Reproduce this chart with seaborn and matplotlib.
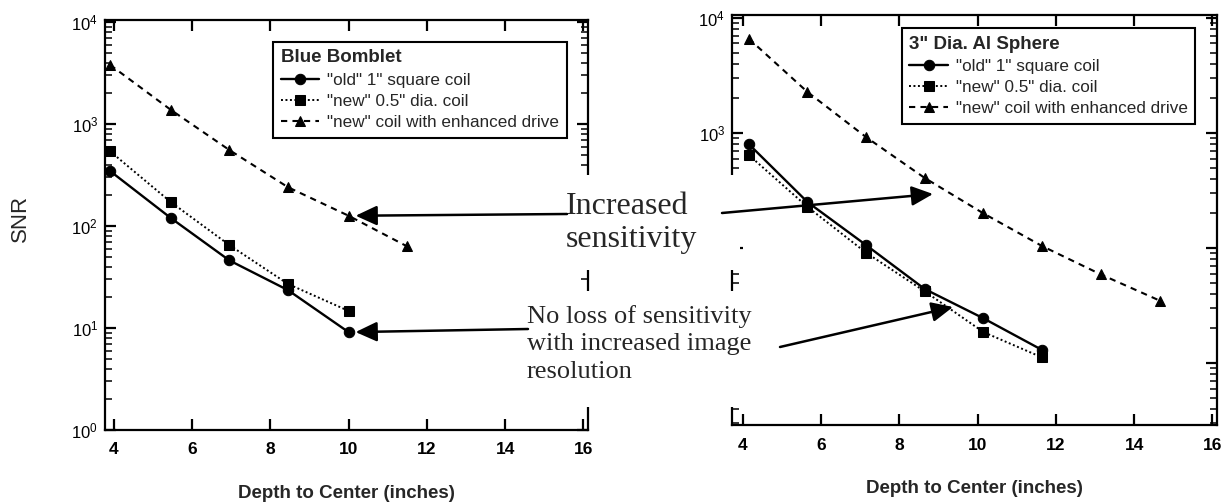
import numpy as np
import matplotlib
matplotlib.use("Agg")
import matplotlib.pyplot as plt
import seaborn as sns
from matplotlib.patches import Rectangle, ConnectionPatch, ArrowStyle
from matplotlib.ticker import LogLocator, NullFormatter, FuncFormatter

# ---- measured SNR versus depth ----
series_labels = ['"old" 1" square coil', '"new" 0.5" dia. coil', '"new" coil with enhanced drive']

bomblet_title = "Blue Bomblet"
bomblet_depth = [3.9, 5.45, 6.95, 8.45, 10.0, 11.5]
bomblet_old = [346, 120, 46, 23.5, 9.1]
bomblet_new = [540, 172, 65, 27, 14.7]
bomblet_drive = [3800, 1380, 556, 240, 126, 63]

sphere_title = '3" Dia. Al Sphere'
sphere_depth = [4.15, 5.65, 7.15, 8.65, 10.15, 11.65, 13.15, 14.65]
sphere_old = [800, 251, 106, 44, 24.5, 13]
sphere_new = [643, 228, 91, 42, 18.6, 11.2]
sphere_drive = [6600, 2270, 920, 406, 200, 104, 59, 35]

x_ticks = [4, 6, 8, 10, 12, 14, 16]
x_label = "Depth to Center (inches)"
y_label = "SNR"
note_up = "Increased\nsensitivity"
note_down = "No loss of sensitivity\nwith increased image\nresolution"

sns.set_theme(style="white")
plt.rcParams["font.family"] = ["Liberation Sans", "DejaVu Sans"]
plt.rcParams["axes.edgecolor"] = "black"
plt.rcParams["axes.linewidth"] = 1.6
plt.rcParams["mathtext.default"] = "regular"

W, H = 1227, 503
fig = plt.figure(figsize=(W / 100, H / 100), dpi=100)
fig.patch.set_facecolor("white")


def fbox(l, t, r, b):
    return [l / W, 1 - b / H, (r - l) / W, (b - t) / H]


def fpt(x, y):
    return (x / W, 1 - y / H)


styles = [
    dict(marker="o", linestyle="-", linewidth=1.7, markersize=7.5),
    dict(marker="s", linestyle=(0, (1, 1.3)), linewidth=1.4, markersize=7),
    dict(marker="^", linestyle=(0, (3, 2.5)), linewidth=1.5, markersize=7.5),
]


def decade_label(min_shown):
    def fmt(v, _):
        if v < min_shown:
            return ""
        return r"$10^{%d}$" % int(round(np.log10(v)))
    return FuncFormatter(fmt)


def draw_panel(rect, depth, old, new, drive, title, ylim, xlim, legend_anchor, min_label):
    ax = fig.add_axes(fbox(*rect))
    ax.set_yscale("log")
    for vals, st in zip([old, new, drive], styles):
        sns.lineplot(x=depth[:len(vals)], y=vals, ax=ax, color="black",
                     markeredgecolor="black", markerfacecolor="black",
                     legend=False, **st)
    ax.set_xlim(*xlim)
    ax.set_ylim(*ylim)
    ax.set_xticks(x_ticks)
    ax.set_xticklabels([str(t) for t in x_ticks], fontweight="bold")
    ax.yaxis.set_major_locator(LogLocator(base=10, numticks=10))
    ax.yaxis.set_major_formatter(decade_label(min_label))
    ax.yaxis.set_minor_locator(LogLocator(base=10, subs=np.arange(2, 10), numticks=20))
    ax.yaxis.set_minor_formatter(NullFormatter())
    ax.tick_params(axis="x", which="major", direction="in", top=True, bottom=True,
                   length=8, width=1.6, pad=9, labelsize=12.5, colors="black")
    ax.tick_params(axis="y", which="major", direction="in", left=True, right=True,
                   length=8, width=1.6, pad=5, labelsize=12, colors="black")
    ax.tick_params(axis="y", which="minor", direction="in", left=True, right=True,
                   length=5, width=1.1, colors="black")
    ax.set_xlabel(x_label, fontsize=13.5, fontweight="bold", labelpad=20)
    for sp in ax.spines.values():
        sp.set_visible(True)
        sp.set_color("black")
        sp.set_linewidth(1.6)
    leg = ax.legend(handles=ax.lines[:3], labels=series_labels, title=title,
                    loc="upper left", bbox_to_anchor=legend_anchor,
                    frameon=True, fancybox=False, framealpha=1, edgecolor="black",
                    fontsize=12.3, title_fontproperties={"weight": "bold", "size": 13.5},
                    alignment="left", borderpad=0.45, handlelength=2.25,
                    handletextpad=0.45, labelspacing=0.36, borderaxespad=0)
    leg.get_frame().set_linewidth(1.5)
    return ax


ax_l = draw_panel((105, 20, 588, 430), bomblet_depth, bomblet_old, bomblet_new,
                  bomblet_drive, bomblet_title, (1, 10470), (3.77, 16.12), (0.348, 0.947), 0.5)
ax_r = draw_panel((732, 15, 1217, 425), sphere_depth, sphere_old, sphere_new,
                  sphere_drive, sphere_title, (2.9, 10600), (3.72, 16.12), (0.350, 0.968), 500)

fig.text(20 / W, 1 - 218 / H, y_label, rotation=90, ha="center", va="center", fontsize=16)

# white text boxes laid over the middle of the figure
for (l, t, r, b) in [(553, 175, 740, 270), (522, 291, 766, 407)]:
    fig.add_artist(Rectangle((l / W, 1 - b / H), (r - l) / W, (b - t) / H,
                             transform=fig.transFigure, facecolor="white",
                             edgecolor="none", zorder=5))

fig.text(*fpt(566, 192), note_up, ha="left", va="top", fontsize=23,
         family="Liberation Serif", linespacing=1.2, zorder=6)
fig.text(*fpt(527, 305), note_down, ha="left", va="top", fontsize=19,
         family="Liberation Serif", linespacing=1.32, zorder=6)

head = ArrowStyle("-|>", head_length=0.65, head_width=0.3)


def arrow(start, end, coords_end, shrink=0):
    cp = ConnectionPatch(xyA=start, coordsA=fig.transFigure, xyB=end, coordsB=coords_end,
                         arrowstyle=head, mutation_scale=20, color="black", lw=1.8,
                         shrinkA=0, shrinkB=shrink, zorder=7)
    fig.add_artist(cp)


arrow(fpt(567, 214), (bomblet_depth[4], bomblet_drive[4]), ax_l.transData, shrink=5)
arrow(fpt(528, 329), (bomblet_depth[4], bomblet_old[4]), ax_l.transData, shrink=5)
arrow(fpt(722, 213), fpt(933, 194), fig.transFigure)
arrow(fpt(780, 347), fpt(953, 307), fig.transFigure)

fig.savefig("out.png", dpi=100, facecolor="white")
